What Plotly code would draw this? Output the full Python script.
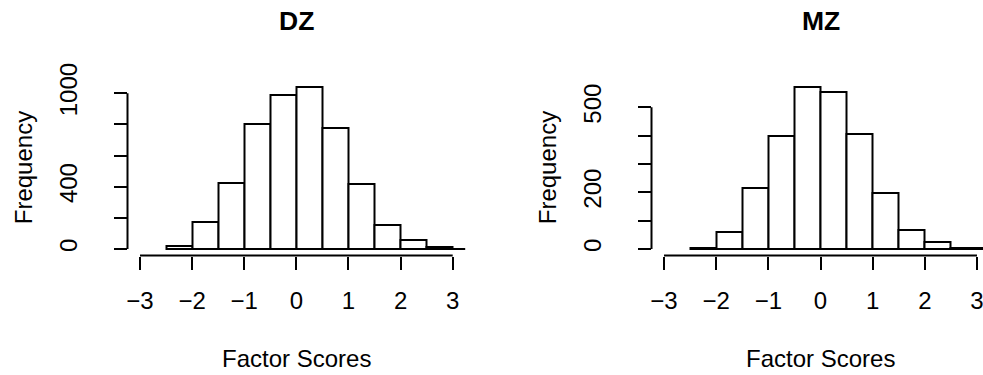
import plotly.graph_objects as go

# Histogram of factor scores for DZ and MZ twins (bin width 0.5)
bin_edges = [-2.5, -2.0, -1.5, -1.0, -0.5, 0.0, 0.5, 1.0, 1.5, 2.0, 2.5, 3.0, 3.5]
dz_counts = [20, 172, 426, 800, 991, 1043, 776, 415, 157, 55, 15, 2]
mz_counts = [3, 59, 214, 400, 573, 553, 404, 196, 67, 26, 5, 2]

x_ticks = [-3, -2, -1, 0, 1, 2, 3]
x_tick_labels = ["\u22123", "\u22122", "\u22121", "0", "1", "2", "3"]
dz_y_ticks = [0, 200, 400, 600, 800, 1000]
dz_y_labels = ["0", "", "400", "", "", "1000"]
mz_y_ticks = [0, 100, 200, 300, 400, 500]
mz_y_labels = ["0", "", "200", "", "", "500"]

panel_titles = ["DZ", "MZ"]
x_title = "Factor Scores"
y_title = "Frequency"

W, H = 983, 375
FONT = "Liberation Sans, Arial, Helvetica, sans-serif"
FS = 24
LINE_W = 2

# plot regions in pixels (left, right, top, bottom); right edge may run past the page
regions = [(127.5, 465.2, 80, 255.5), (651.5, 989.5, 80, 255.5)]
xlim = (-3, 3)

fig = go.Figure()

centers = [(a + b) / 2 for a, b in zip(bin_edges[:-1], bin_edges[1:])]
widths = [b - a for a, b in zip(bin_edges[:-1], bin_edges[1:])]

panels = [
    (dz_counts, dz_y_ticks, dz_y_labels),
    (mz_counts, mz_y_ticks, mz_y_labels),
]

annotations = []
shapes = []
for i, ((counts, yt, yl), (left, right, top, bottom), title) in enumerate(
    zip(panels, regions, panel_titles)
):
    n = "" if i == 0 else str(i + 1)
    xa, ya = "x" + n, "y" + n
    # R-style 4% padding around the axis limits
    pad = 0.04 * (xlim[1] - xlim[0])
    x0, x1 = xlim[0] - pad, xlim[1] + pad
    ppu = (right - left) / (x1 - x0)
    r_px = min(right, W)
    x1_vis = x0 + (r_px - left) / ppu
    ymax = max(counts)
    y0, y1 = -0.04 * ymax, 1.04 * ymax

    fig.add_trace(
        go.Bar(
            x=centers,
            y=counts,
            width=widths,
            marker=dict(color="white", line=dict(color="black", width=2)),
            xaxis=xa,
            yaxis=ya,
            showlegend=False,
            hoverinfo="skip",
        )
    )

    axis_font = dict(family=FONT, size=FS, color="black")
    fig.update_layout(
        {
            ("xaxis" + n): dict(
                domain=[left / W, r_px / W],
                range=[x0, x1_vis],
                anchor=ya,
                showgrid=False,
                zeroline=False,
                showline=False,
                ticks="outside",
                ticklen=13,
                tickwidth=LINE_W,
                tickcolor="black",
                tickvals=x_ticks,
                ticktext=x_tick_labels,
                tickfont=axis_font,
                ticklabelstandoff=11,
                ticklabeloverflow="allow",
            ),
            ("yaxis" + n): dict(
                domain=[1 - bottom / H, 1 - top / H],
                range=[y0, y1],
                anchor=xa,
                showgrid=False,
                zeroline=False,
                showline=False,
                ticks="outside",
                ticklen=13,
                tickwidth=LINE_W,
                tickcolor="black",
                tickvals=yt,
                ticktext=yl,
                tickangle=-90,
                tickfont=axis_font,
                ticklabelstandoff=27,
                ticklabeloverflow="allow",
            ),
        }
    )

    # axis lines spanning the first to last tick
    shapes.append(
        dict(
            type="line", xref=xa, yref=ya + " domain",
            x0=x_ticks[0], x1=x_ticks[-1], y0=0, y1=0,
            line=dict(color="black", width=LINE_W),
        )
    )
    shapes.append(
        dict(
            type="line", xref=xa + " domain", yref=ya,
            x0=0, x1=0, y0=yt[0], y1=yt[-1],
            line=dict(color="black", width=LINE_W),
        )
    )

    xmid = (x_ticks[0] + x_ticks[-1]) / 2
    annotations.append(
        dict(
            text="<b>" + title + "</b>", xref=xa, yref="paper",
            x=xmid, y=1 - 21 / H, xanchor="center", yanchor="middle",
            showarrow=False, font=dict(family=FONT, size=26.5, color="black"),
        )
    )
    annotations.append(
        dict(
            text=x_title, xref=xa, yref="paper",
            x=xmid, y=1 - 358 / H, xanchor="center", yanchor="middle",
            showarrow=False, font=dict(family=FONT, size=FS, color="black"),
        )
    )
    annotations.append(
        dict(
            text=y_title, xref="paper", yref="paper",
            x=(left - 104) / W, y=1 - (top + bottom) / 2 / H,
            xanchor="center", yanchor="middle", textangle=-90,
            showarrow=False, font=dict(family=FONT, size=FS, color="black"),
        )
    )

fig.update_layout(
    width=W,
    height=H,
    margin=dict(l=0, r=0, t=0, b=0, autoexpand=False),
    paper_bgcolor="white",
    plot_bgcolor="white",
    bargap=0,
    annotations=annotations,
    shapes=shapes,
)

fig.write_html("out.html")
